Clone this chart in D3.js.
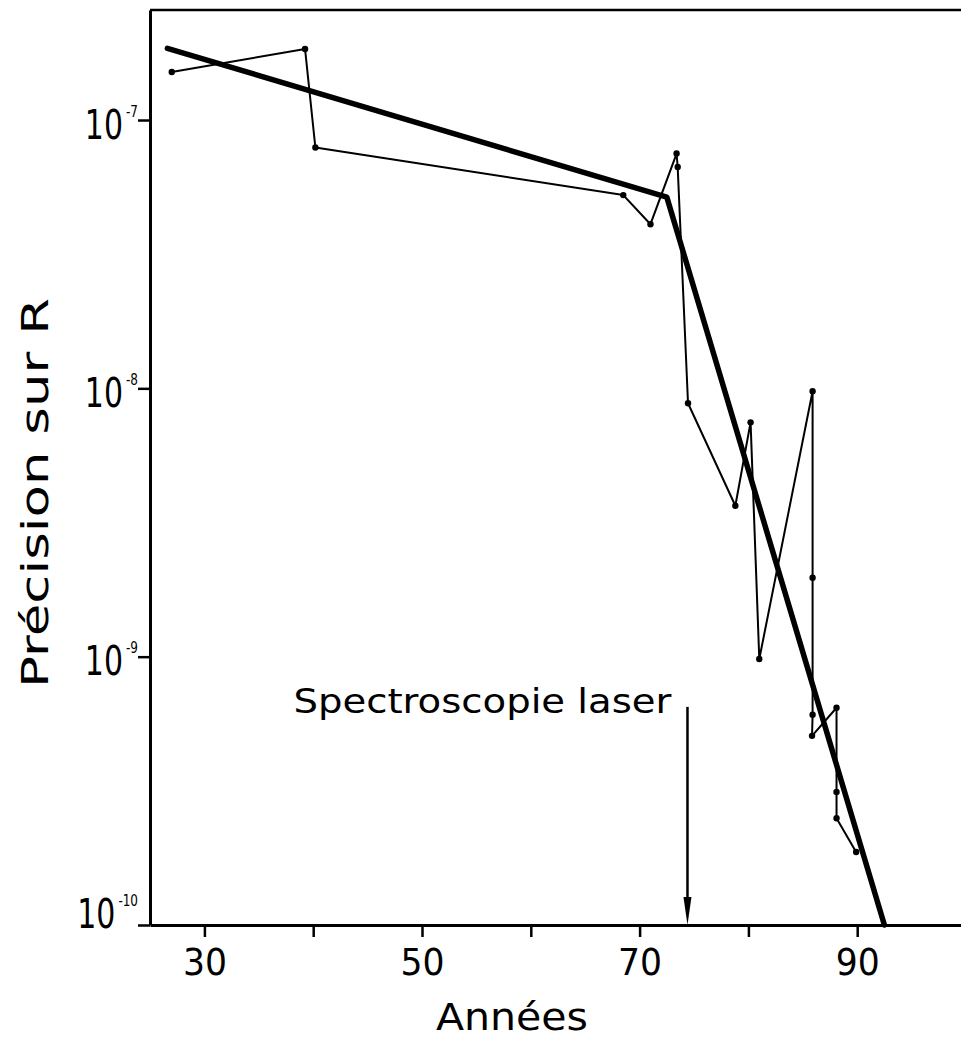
<!DOCTYPE html>
<html>
<head>
<meta charset="utf-8">
<script src="https://cdn.jsdelivr.net/npm/d3@7"></script>
<style>
  html, body { margin: 0; padding: 0; background: #fff; }
  svg { display: block; }
  text { font-family: "DejaVu Sans", sans-serif; fill: #000; }
</style>
</head>
<body>
<svg id="chart" width="961" height="1041"></svg>
<script>
// ---- data ----
const measureYears = [27.0, 39.25, 40.2, 68.5, 71.0, 73.4, 73.5, 74.45, 78.8, 80.2, 81.0, 85.9, 85.9, 85.9, 85.85, 88.1, 88.1, 88.1, 89.9];
const measurePrecision = [1.51e-7, 1.84e-7, 7.9e-8, 5.25e-8, 4.09e-8, 7.5e-8, 6.68e-8, 8.8e-9, 3.65e-9, 7.47e-9, 9.8e-10, 9.75e-9, 1.97e-9, 6.08e-10, 5.07e-10, 6.45e-10, 3.13e-10, 2.5e-10, 1.87e-10];
const trendYears = [26.6, 72.5, 92.5];
const trendPrecision = [1.85e-7, 5.16e-8, 1.0e-10];
const xTicks = [30, 40, 50, 60, 70, 80, 90];
const xTickLabels = ["30", "", "50", "", "70", "", "90"];
const yTicks = [1e-7, 1e-8, 1e-9, 1e-10];
const yTickExponents = ["-7", "-8", "-9", "-10"];
const annotationText = "Spectroscopie laser";
const annotationYear = 74.4;
const annotationTop = 6.5e-10;
const xTitle = "Années";
const yTitle = "Précision sur R";

// ---- layout ----
const svg = d3.select("#chart");
const mLeft = 150, mRight = 966, mTop = 10, mBottom = 925;
const x = d3.scaleLinear().domain([25, 100]).range([mLeft, mRight]);
const y = d3.scaleLog().domain([1e-10, Math.pow(10, -6.59)]).range([mBottom, mTop]);

// frame top line
svg.append("line").attr("x1", mLeft).attr("x2", 961).attr("y1", mTop).attr("y2", mTop)
  .attr("stroke", "#000").attr("stroke-width", 2.5);

// x axis
const gx = svg.append("g").attr("transform", `translate(0,${mBottom})`)
  .call(d3.axisBottom(x).tickValues(xTicks).tickSize(12).tickSizeOuter(0)
    .tickFormat((d, i) => xTickLabels[i]));
gx.select(".domain").attr("stroke-width", 3);
gx.selectAll(".tick line").attr("stroke-width", 2.5);
gx.selectAll(".tick text").attr("font-size", 38).attr("dy", 0).attr("y", 50)
  .attr("font-family", "DejaVu Sans").attr("fill", "#000")
  .attr("textLength", 44).attr("lengthAdjust", "spacingAndGlyphs");

// y axis
const gy = svg.append("g").attr("transform", `translate(${mLeft},0)`)
  .call(d3.axisLeft(y).tickValues(yTicks).tickSize(12).tickSizeOuter(0).tickFormat(""));
gy.select(".domain").attr("stroke-width", 3);
gy.selectAll(".tick line").attr("stroke-width", 2.5);
gy.selectAll(".tick text").remove();
gy.selectAll(".tick").each(function(d, i) {
  const base = i === yTicks.length - 1 ? 2 : 18;
  const t = d3.select(this).append("text")
    .attr("transform", `translate(-12,${base}) scale(0.75,1)`)
    .attr("text-anchor", "end").attr("font-size", 40);
  t.append("tspan").text("10");
  t.append("tspan").attr("font-size", 16).attr("dx", 4).attr("dy", -22).text(yTickExponents[i]);
});

// measurement series (thin line with dots)
const pts = measureYears.map((yr, i) => [yr, measurePrecision[i]]);
const line = d3.line().x(d => x(d[0])).y(d => y(d[1]));
svg.append("path").datum(pts).attr("d", line)
  .attr("fill", "none").attr("stroke", "#000").attr("stroke-width", 2).attr("stroke-linejoin", "round");
svg.selectAll("circle.pt").data(pts).enter().append("circle").attr("class", "pt")
  .attr("cx", d => x(d[0])).attr("cy", d => y(d[1])).attr("r", 3.2).attr("fill", "#000");

// trend (thick)
const trend = trendYears.map((yr, i) => [yr, trendPrecision[i]]);
svg.append("path").datum(trend).attr("d", line)
  .attr("fill", "none").attr("stroke", "#000").attr("stroke-width", 5.5)
  .attr("stroke-linejoin", "round").attr("stroke-linecap", "round");

// annotation arrow
const ax = x(annotationYear);
svg.append("line").attr("x1", ax).attr("x2", ax).attr("y1", y(annotationTop)).attr("y2", mBottom - 20)
  .attr("stroke", "#000").attr("stroke-width", 2.5);
svg.append("path")
  .attr("d", `M${ax - 4},${mBottom - 28} L${ax + 4},${mBottom - 28} L${ax},${mBottom} Z`)
  .attr("fill", "#000");
svg.append("text").attr("x", ax - 16).attr("y", 713).attr("text-anchor", "end")
  .attr("font-size", 33).attr("textLength", 378).attr("lengthAdjust", "spacingAndGlyphs")
  .text(annotationText);

// axis titles
svg.append("text").attr("x", 512).attr("y", 1030).attr("text-anchor", "middle")
  .attr("font-size", 38).attr("textLength", 152).attr("lengthAdjust", "spacingAndGlyphs")
  .text(xTitle);
svg.append("text").attr("transform", "translate(48,493) rotate(-90)").attr("text-anchor", "middle")
  .attr("font-size", 38).attr("textLength", 390).attr("lengthAdjust", "spacingAndGlyphs")
  .text(yTitle);
</script>
</body>
</html>
